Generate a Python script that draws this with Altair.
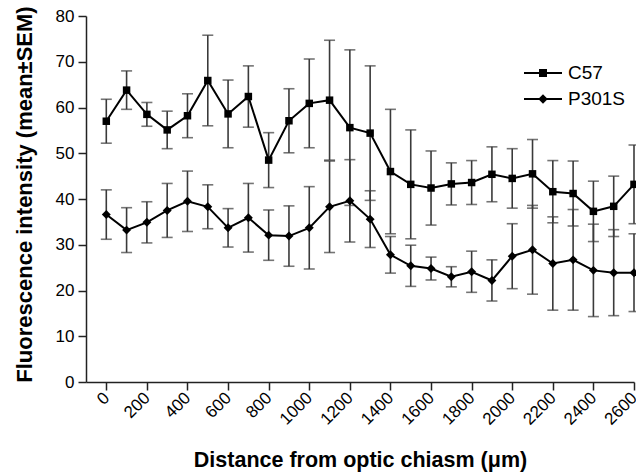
import altair as alt
import pandas as pd

# ---- data ----
distance = [0, 100, 200, 300, 400, 500, 600, 700, 800, 900, 1000, 1100, 1200, 1300,
            1400, 1500, 1600, 1700, 1800, 1900, 2000, 2100, 2200, 2300, 2400, 2500, 2600]
c57_mean = [57.0, 63.8, 58.5, 55.1, 58.2, 65.9, 58.6, 62.4, 48.5, 57.1, 60.9, 61.6, 55.6, 54.4,
            46.0, 43.2, 42.4, 43.3, 43.6, 45.4, 44.5, 45.5, 41.6, 41.2, 37.3, 38.4, 43.2]
c57_sem = [4.8, 4.2, 2.6, 4.1, 4.8, 9.9, 7.4, 6.7, 6.0, 7.0, 9.7, 13.1, 17.0, 14.7,
           13.6, 11.9, 8.1, 4.6, 4.8, 6.0, 6.5, 7.5, 6.8, 7.1, 6.6, 6.6, 8.6]
p301s_mean = [36.6, 33.2, 34.9, 37.5, 39.5, 38.3, 33.7, 35.9, 32.1, 31.9, 33.7, 38.3, 39.6, 35.6,
              27.8, 25.4, 24.8, 23.0, 24.1, 22.2, 27.5, 28.9, 25.9, 26.7, 24.4, 23.9, 23.9]
p301s_sem = [5.4, 4.9, 4.5, 5.9, 6.6, 4.8, 4.2, 7.5, 5.5, 6.6, 9.0, 10.0, 9.0, 6.2,
             4.0, 4.5, 2.5, 2.2, 4.5, 4.5, 7.1, 9.7, 10.2, 11.0, 10.1, 9.4, 8.5]
series_names = ["C57", "P301S"]
x_ticks = [0, 200, 400, 600, 800, 1000, 1200, 1400, 1600, 1800, 2000, 2200, 2400, 2600]
y_ticks = [0, 10, 20, 30, 40, 50, 60, 70, 80]

rows = []
for name, means, sems in [("C57", c57_mean, c57_sem), ("P301S", p301s_mean, p301s_sem)]:
    for d, m, e in zip(distance, means, sems):
        rows.append({"distance": d, "series": name, "legend_series": name,
                     "mean": m, "lo": m - e, "hi": m + e})
df = pd.DataFrame(rows)

FONT = "Liberation Sans"
AX = "#222222"

xscale = alt.Scale(domain=[-100, 2600], nice=False, zero=False)
yscale = alt.Scale(domain=[0, 80], nice=False, zero=True)

x_axis = alt.Axis(values=x_ticks, title="Distance from optic chiasm (μm)", format="d",
                  labelAngle=-45, labelAlign="right", labelBaseline="middle",
                  labelPadding=5, labelOverlap=False, labelFlush=False, tickSize=8, grid=False,
                  titleFontSize=21.5,
                  titleX=274, titleY=78, titleAlign="center", titleBaseline="middle")
y_axis = alt.Axis(values=y_ticks, title="Fluorescence intensity (mean±SEM)",
                  tickSize=8, labelPadding=4, grid=False, labelOverlap=False, labelFlush=False,
                  titleFontSize=22,
                  titleX=-62, titleY=178, titleAngle=270, titleAlign="center",
                  titleBaseline="middle")

X = alt.X("distance:Q", scale=xscale, axis=x_axis)

base = alt.Chart(df)

err_rule = base.mark_rule(color="#3a3a3a", strokeWidth=1.6).encode(
    x=X,
    y=alt.Y("lo:Q", scale=yscale, axis=y_axis),
    y2="hi:Q",
    detail="series:N",
)
cap_lo = base.mark_tick(color="#3a3a3a", orient="horizontal", size=11, thickness=1.6).encode(
    x=X, y=alt.Y("lo:Q", scale=yscale, axis=y_axis))
cap_hi = base.mark_tick(color="#3a3a3a", orient="horizontal", size=11, thickness=1.6).encode(
    x=X, y=alt.Y("hi:Q", scale=yscale, axis=y_axis))

line = base.mark_line(color="black", strokeWidth=2).encode(
    x=X, y=alt.Y("mean:Q", scale=yscale, axis=y_axis), detail="series:N")

points = base.mark_point(filled=True, color="black", opacity=1).encode(
    x=X, y=alt.Y("mean:Q", scale=yscale, axis=y_axis),
    shape=alt.Shape("series:N", scale=alt.Scale(domain=series_names, range=["square", "diamond"]),
                    legend=None),
    size=alt.Size("series:N", scale=alt.Scale(domain=series_names, range=[56, 80]), legend=None),
)

# legend glyphs: a line segment with the series marker (unit = 19 px)
sq_path = "M-1,-0.05H1V0.05H-1ZM-0.21,-0.21H0.21V0.21H-0.21Z"
di_path = "M-1,-0.05H1V0.05H-1ZM0,-0.25L0.25,0L0,0.25L-0.25,0Z"
legend_layer = base.mark_point(filled=True, color="black", opacity=0).encode(
    x=X, y=alt.Y("mean:Q", scale=yscale, axis=y_axis),
    shape=alt.Shape("legend_series:N",
                    scale=alt.Scale(domain=series_names, range=[sq_path, di_path]),
                    legend=alt.Legend(orient="none", legendX=438, legendY=47, title=None,
                                      symbolSize=1444, symbolStrokeWidth=0,
                                      symbolFillColor="black", symbolStrokeColor="black",
                                      symbolOpacity=1, labelFont=FONT, labelFontSize=19,
                                      labelColor="black", labelOffset=6, rowPadding=6,
                                      clipHeight=20, padding=0)),
)

chart = alt.layer(err_rule, cap_lo, cap_hi, line, points, legend_layer).resolve_scale(
    shape="independent", size="independent"
).properties(
    width=548, height=366,
    autosize=alt.AutoSizeParams(type="none"),
    padding={"left": 86, "top": 16, "right": 2, "bottom": 90},
).configure_view(stroke=None).configure_axis(
    domainColor=AX, domainWidth=1.5, tickColor=AX, tickWidth=1.5,
    labelFont=FONT, labelFontSize=17, labelColor="black",
    titleFont=FONT, titleFontWeight="bold", titleColor="black",
)

chart.save("out.html", embed_options={"renderer": "svg", "actions": False})
